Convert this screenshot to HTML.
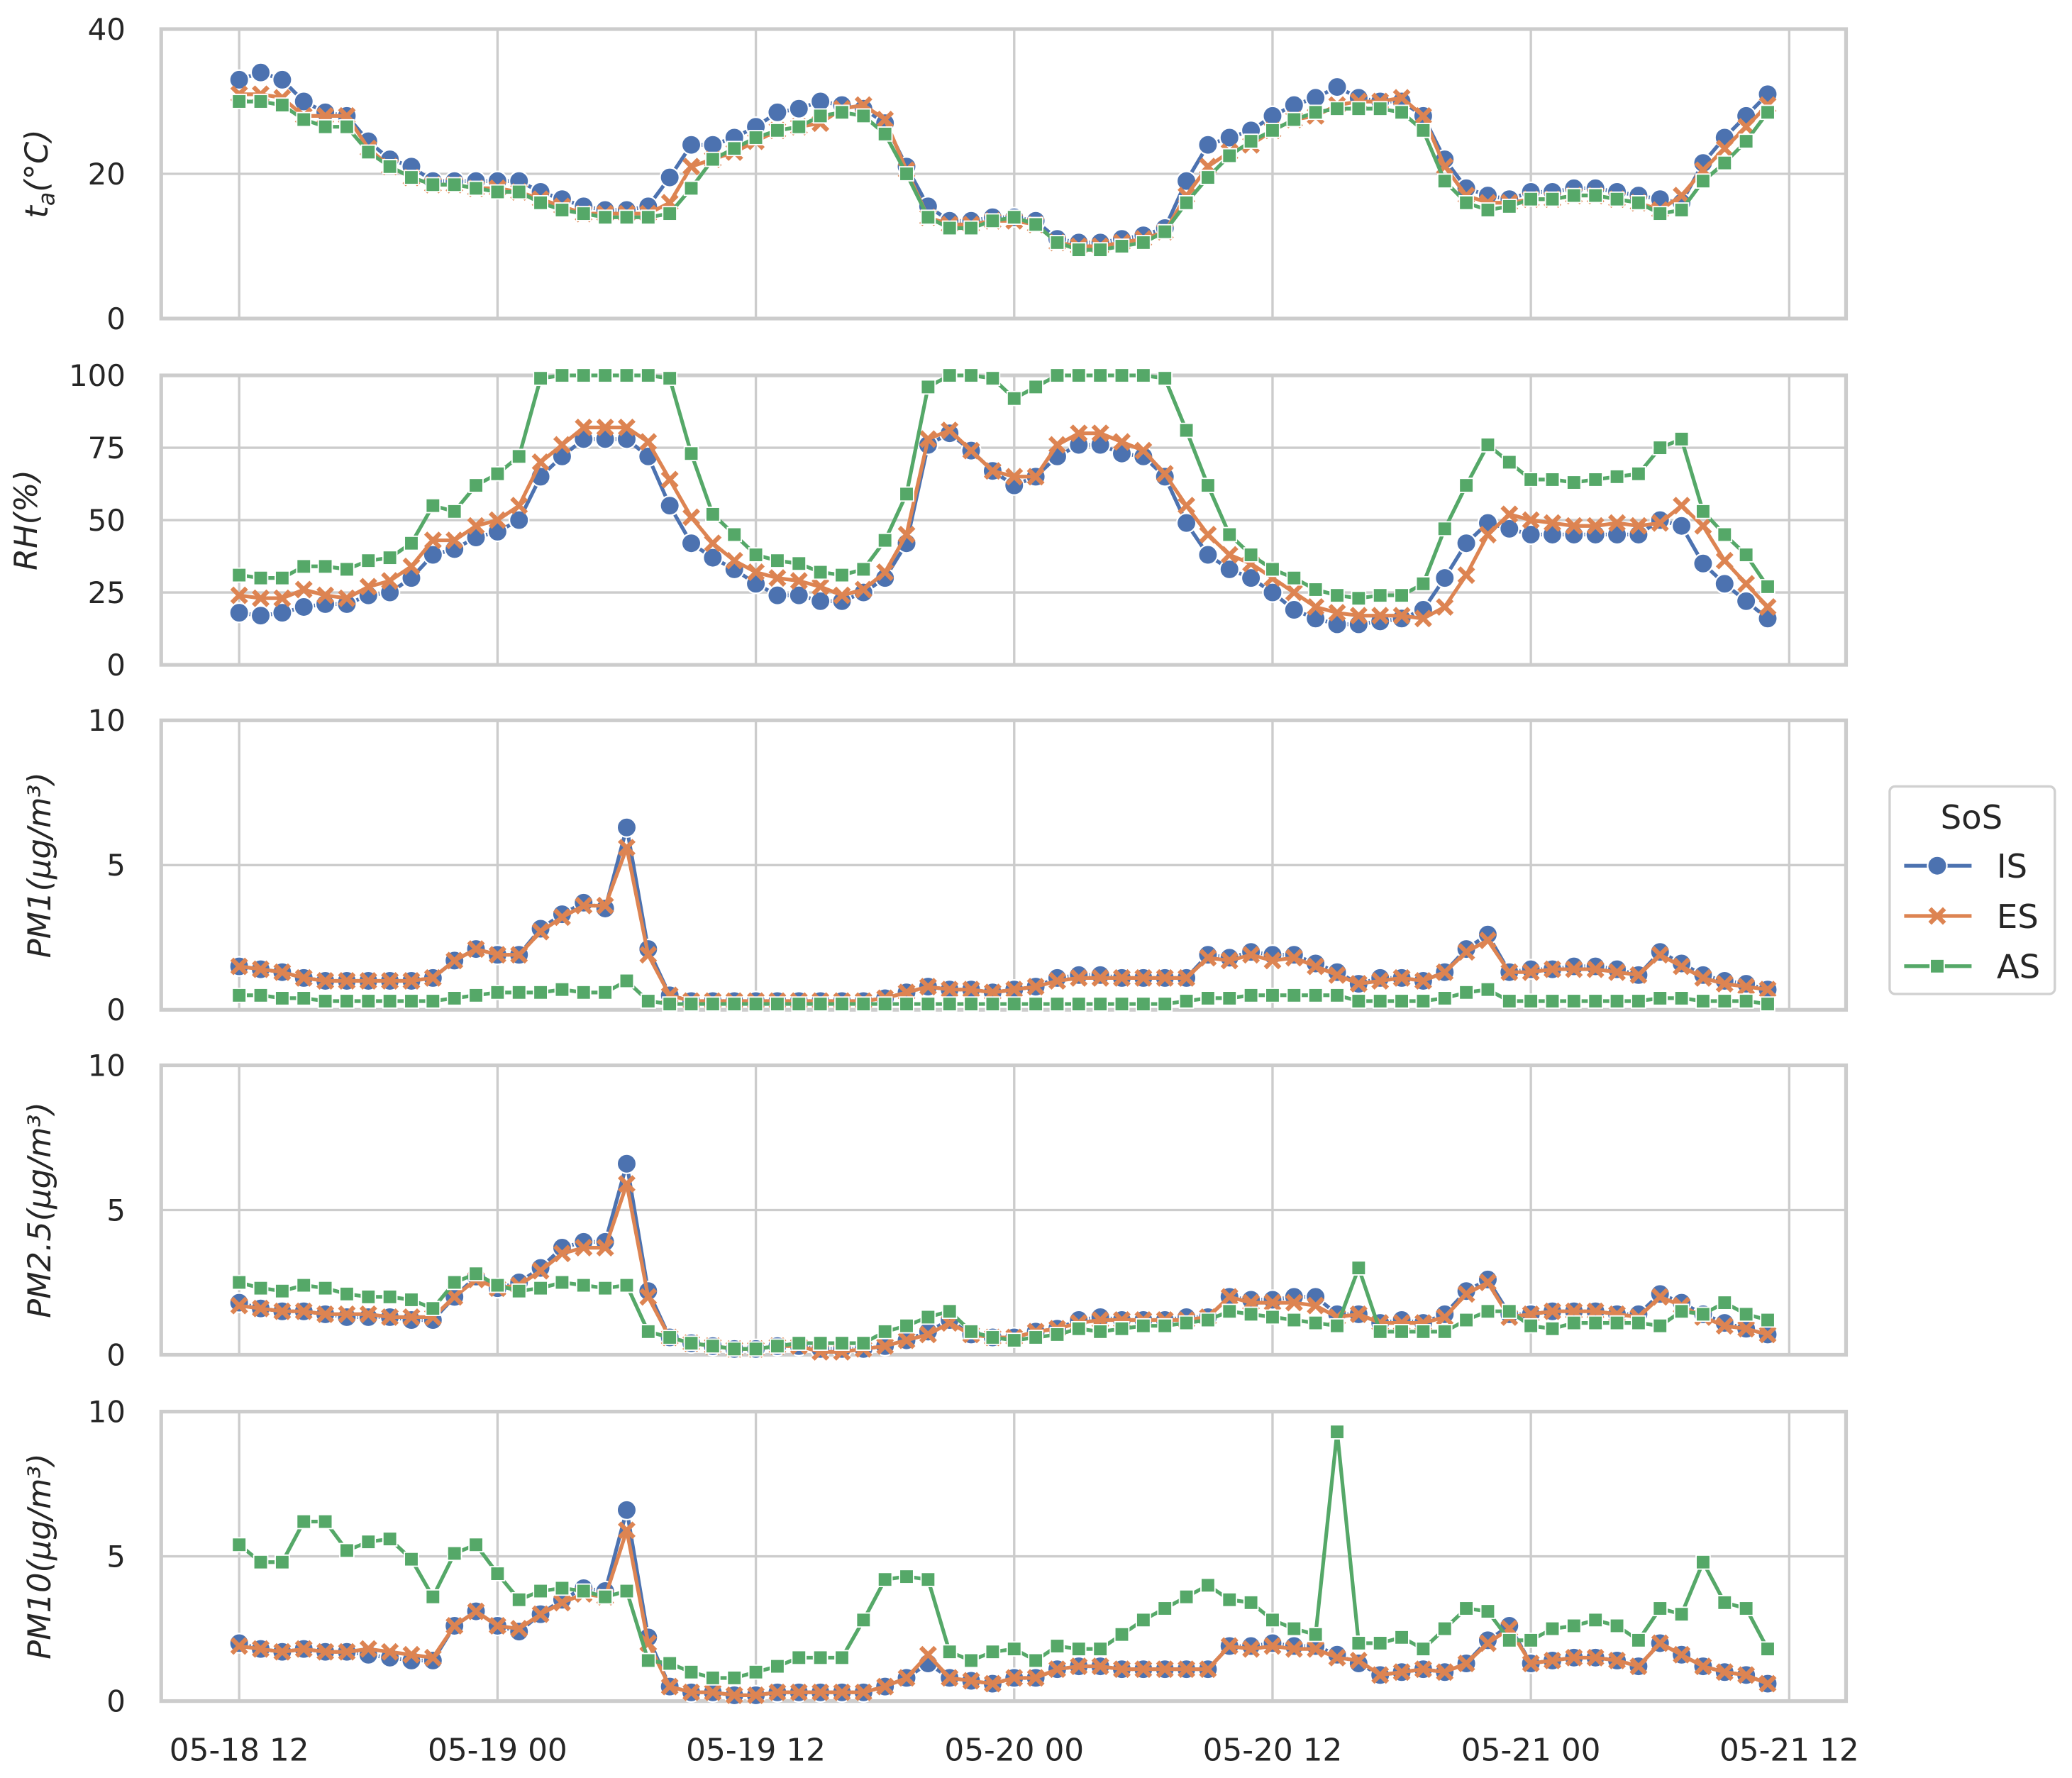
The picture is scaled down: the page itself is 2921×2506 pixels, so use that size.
<!DOCTYPE html>
<html><head><meta charset="utf-8"><style>
html,body{margin:0;padding:0;background:#fff}
svg{display:block}
text{font-family:"DejaVu Sans","Liberation Sans",sans-serif;fill:#262626}
</style></head><body>
<svg id="chart" width="2921" height="2506" viewBox="0 0 1568 1345.2" xmlns="http://www.w3.org/2000/svg"></svg>
<script>
const xTickLabels=["05-18 12","05-19 00","05-19 12","05-20 00","05-20 12","05-21 00","05-21 12"];
const taIS=[33,34,33,30,28.5,28,24.5,22,21,19,19,19,19,19,17.5,16.5,15.5,15,15,15.5,19.5,24,24,25,26.5,28.5,29,30,29.5,29,27,21,15.5,13.5,13.5,14,14,13.5,11,10.5,10.5,11,11.5,12.5,19,24,25,26,28,29.5,30.5,32,30.5,30,30,28,22,18,17,16.5,17.5,17.5,18,18,17.5,17,16.5,16,21.5,25,28,31];
const taES=[31,31,30.5,28,28,28,23.5,21,19.5,18.5,18.5,18,18,17.5,16.5,15.5,14.5,14.5,14.5,14.5,16,21,22,23,24.5,26,26.5,27,29,29.5,27.5,20.5,14,13,13,13.5,13.5,13,10.5,10,10,10.5,11,12,17,21,23,24,26,27.5,28,29.5,30,30,30.5,28,21,17,16,16,16.5,16.5,17,17,16.5,16,15,17,20.5,23.5,26.5,29.5];
const taAS=[30,30,29.5,27.5,26.5,26.5,23,21,19.5,18.5,18.5,18,17.5,17.5,16,15,14.5,14,14,14,14.5,18,22,23.5,25,26,26.5,28,28.5,28,25.5,20,14,12.5,12.5,13.5,14,13,10.5,9.5,9.5,10,10.5,12,16,19.5,22.5,24.5,26,27.5,28.5,29,29,29,28.5,26,19,16,15,15.5,16.5,16.5,17,17,16.5,16,14.5,15,19,21.5,24.5,28.5];
const rhIS=[18,17,18,20,21,21,24,25,30,38,40,44,46,50,65,72,78,78,78,72,55,42,37,33,28,24,24,22,22,25,30,42,76,80,74,67,62,65,72,76,76,73,72,65,49,38,33,30,25,19,16,14,14,15,16,19,30,42,49,47,45,45,45,45,45,45,50,48,35,28,22,16];
const rhES=[24,23,23,26,24,23,27,29,34,43,43,48,50,55,70,76,82,82,82,77,64,51,42,36,32,30,29,27,24,26,32,45,78,81,74,67,65,65,76,80,80,77,74,66,55,45,38,35,30,25,20,18,17,17,17,16,20,31,45,52,50,49,48,48,49,48,49,55,48,36,28,20];
const rhAS=[31,30,30,34,34,33,36,37,42,55,53,62,66,72,99,100,100,100,100,100,99,73,52,45,38,36,35,32,31,33,43,59,96,100,100,99,92,96,100,100,100,100,100,99,81,62,45,38,33,30,26,24,23,24,24,28,47,62,76,70,64,64,63,64,65,66,75,78,53,45,38,27];
const pm1IS=[1.5,1.4,1.3,1.1,1.0,1.0,1.0,1.0,1.0,1.1,1.7,2.1,1.9,1.9,2.8,3.3,3.7,3.5,6.3,2.1,0.5,0.3,0.3,0.3,0.3,0.3,0.3,0.3,0.3,0.3,0.4,0.6,0.8,0.7,0.7,0.6,0.7,0.8,1.1,1.2,1.2,1.1,1.1,1.1,1.1,1.9,1.8,2.0,1.9,1.9,1.6,1.3,0.9,1.1,1.1,1.0,1.3,2.1,2.6,1.3,1.4,1.4,1.5,1.5,1.4,1.2,2.0,1.6,1.2,1.0,0.9,0.7];
const pm1ES=[1.5,1.4,1.3,1.1,1.0,1.0,1.0,1.0,1.0,1.1,1.7,2.1,1.9,1.9,2.7,3.2,3.6,3.6,5.6,1.9,0.5,0.3,0.3,0.3,0.3,0.3,0.3,0.3,0.3,0.3,0.4,0.6,0.8,0.7,0.7,0.6,0.7,0.8,1.0,1.1,1.1,1.1,1.1,1.1,1.1,1.8,1.7,1.9,1.7,1.8,1.5,1.2,0.9,1.0,1.1,1.0,1.3,2.0,2.4,1.3,1.3,1.4,1.4,1.4,1.3,1.2,1.9,1.5,1.1,0.9,0.8,0.7];
const pm1AS=[0.5,0.5,0.4,0.4,0.3,0.3,0.3,0.3,0.3,0.3,0.4,0.5,0.6,0.6,0.6,0.7,0.6,0.6,1.0,0.3,0.2,0.2,0.2,0.2,0.2,0.2,0.2,0.2,0.2,0.2,0.2,0.2,0.2,0.2,0.2,0.2,0.2,0.2,0.2,0.2,0.2,0.2,0.2,0.2,0.3,0.4,0.4,0.5,0.5,0.5,0.5,0.5,0.3,0.3,0.3,0.3,0.4,0.6,0.7,0.3,0.3,0.3,0.3,0.3,0.3,0.3,0.4,0.4,0.3,0.3,0.3,0.2];
const pm25IS=[1.8,1.6,1.5,1.5,1.4,1.3,1.3,1.3,1.2,1.2,2.0,2.7,2.3,2.5,3.0,3.7,3.9,3.9,6.6,2.2,0.6,0.4,0.3,0.2,0.2,0.3,0.3,0.2,0.2,0.2,0.3,0.5,0.8,1.2,0.7,0.6,0.6,0.8,0.9,1.2,1.3,1.2,1.2,1.2,1.3,1.3,2.0,1.9,1.9,2.0,2.0,1.4,1.4,1.1,1.2,1.1,1.4,2.2,2.6,1.4,1.4,1.5,1.5,1.5,1.4,1.4,2.1,1.8,1.4,1.1,0.9,0.7];
const pm25ES=[1.7,1.6,1.5,1.5,1.4,1.4,1.4,1.3,1.3,1.3,2.0,2.6,2.3,2.4,2.9,3.5,3.7,3.7,5.9,2.0,0.6,0.4,0.3,0.2,0.2,0.3,0.3,0.1,0.1,0.2,0.3,0.5,0.7,1.1,0.7,0.6,0.6,0.8,0.9,1.1,1.2,1.2,1.2,1.2,1.2,1.3,2.0,1.8,1.8,1.8,1.7,1.3,1.4,1.1,1.1,1.1,1.3,2.1,2.5,1.3,1.4,1.5,1.5,1.5,1.4,1.3,2.0,1.7,1.3,1.0,0.9,0.7];
const pm25AS=[2.5,2.3,2.2,2.4,2.3,2.1,2.0,2.0,1.9,1.6,2.5,2.8,2.4,2.2,2.3,2.5,2.4,2.3,2.4,0.8,0.6,0.4,0.3,0.2,0.2,0.3,0.4,0.4,0.4,0.4,0.8,1.0,1.3,1.5,0.8,0.6,0.5,0.6,0.7,0.9,0.8,0.9,1.0,1.0,1.1,1.2,1.5,1.4,1.3,1.2,1.1,1.0,3.0,0.8,0.8,0.8,0.8,1.2,1.5,1.5,1.0,0.9,1.1,1.1,1.1,1.1,1.0,1.5,1.4,1.8,1.4,1.2];
const pm10IS=[2.0,1.8,1.7,1.8,1.7,1.7,1.6,1.5,1.4,1.4,2.6,3.1,2.6,2.4,3.0,3.5,3.9,3.8,6.6,2.2,0.5,0.3,0.3,0.2,0.2,0.3,0.3,0.3,0.3,0.3,0.5,0.8,1.3,0.8,0.7,0.6,0.8,0.8,1.1,1.2,1.2,1.1,1.1,1.1,1.1,1.1,1.9,1.9,2.0,1.9,1.9,1.6,1.3,0.9,1.0,1.1,1.0,1.3,2.1,2.6,1.3,1.4,1.5,1.5,1.4,1.2,2.0,1.6,1.2,1.0,0.9,0.6];
const pm10ES=[1.9,1.8,1.7,1.8,1.7,1.7,1.8,1.7,1.6,1.5,2.6,3.1,2.6,2.5,3.0,3.4,3.7,3.6,5.9,2.0,0.5,0.3,0.3,0.2,0.2,0.3,0.3,0.3,0.3,0.3,0.5,0.8,1.6,0.8,0.7,0.6,0.8,0.8,1.1,1.2,1.2,1.1,1.1,1.1,1.1,1.1,1.9,1.8,1.9,1.8,1.8,1.5,1.4,0.9,1.0,1.1,1.0,1.3,2.0,2.5,1.3,1.4,1.5,1.5,1.4,1.2,2.0,1.6,1.2,1.0,0.9,0.6];
const pm10AS=[5.4,4.8,4.8,6.2,6.2,5.2,5.5,5.6,4.9,3.6,5.1,5.4,4.4,3.5,3.8,3.9,3.8,3.6,3.8,1.4,1.3,1.0,0.8,0.8,1.0,1.2,1.5,1.5,1.5,2.8,4.2,4.3,4.2,1.7,1.4,1.7,1.8,1.4,1.9,1.8,1.8,2.3,2.8,3.2,3.6,4.0,3.5,3.4,2.8,2.5,2.3,9.3,2.0,2.0,2.2,1.8,2.5,3.2,3.1,2.1,2.1,2.5,2.6,2.8,2.6,2.1,3.2,3.0,4.8,3.4,3.2,1.8];
const panelYTicks=[[0,20,40],[0,25,50,75,100],[0,5,10],[0,5,10],[0,5,10]];
const panelMax=[40,100,10,10,10];
const panelNames=["ta","rh","pm1","pm25","pm10"];
const panelSeries=[[taIS,taES,taAS],[rhIS,rhES,rhAS],[pm1IS,pm1ES,pm1AS],[pm25IS,pm25ES,pm25AS],[pm10IS,pm10ES,pm10AS]];
const seriesNames=["IS","ES","AS"];

const NS="http://www.w3.org/2000/svg";
const svg=document.getElementById('chart');
function mk(tag,attrs,parent){const e=document.createElementNS(NS,tag);for(const k in attrs)e.setAttribute(k,attrs[k]);(parent||svg).appendChild(e);return e;}
const X0=122,X1=1397,TOPS=[22,284,545,806,1068],H=219;
const colors=["#4c72b0","#dd8452","#55a868"];
function xs(i){return 181+i*(195.5/12);}
function xTick(k){return 181+k*195.5;}
const ylabs=[["t",36],["RH(%)",28],["PM1(μg/m³)",38],["PM2.5(μg/m³)",38],["PM10(μg/m³)",38]];

panelSeries.forEach((ser,p)=>{
  const top=TOPS[p],bot=top+H,max=panelMax[p];
  const ys=v=>bot-v/max*H;
  const g=mk('g',{});
  
  
  for(let k=0;k<xTickLabels.length;k++){const l=mk('line',{x1:xTick(k),x2:xTick(k),y1:top,y2:bot,stroke:'#cccccc','stroke-width':1.8},g);
    }
  panelYTicks[p].forEach(t=>{const l=mk('line',{x1:X0,x2:X1,y1:ys(t),y2:ys(t),stroke:'#cccccc','stroke-width':1.8},g);
    
    const tx=mk('text',{x:95,y:ys(t)+8,'text-anchor':'end','font-size':22.5},g);tx.textContent=t;
    });
  const fr=mk('rect',{x:X0,y:top,width:X1-X0,height:H,fill:'none',stroke:'#cccccc','stroke-width':2.8},g);
  
  const yl=mk('text',{transform:`translate(${ylabs[p][1]},${top+H/2}) rotate(-90)`,'text-anchor':'middle','font-size':24,'font-style':'italic'},g);
  
  if(p===0){yl.innerHTML='t<tspan font-size="17" dy="5">a</tspan><tspan dy="-5">(°C)</tspan>';}
  else yl.textContent=ylabs[p][0];
  ser.forEach((vals,s)=>{
    const sg=mk('g',{},g);
    
    
    const d=vals.map((v,i)=>(i?'L':'M')+xs(i).toFixed(1)+','+ys(v).toFixed(1)).join('');
    const pl=mk('path',{d:d,fill:'none',stroke:colors[s],'stroke-width':2.8,'stroke-linejoin':'round'},sg);
    
    vals.forEach((v,i)=>{
      const x=xs(i),y=ys(v);let m;
      if(s===0){m=mk('circle',{cx:x,cy:y,r:7.3,fill:colors[0],stroke:'#fff','stroke-width':1.2},sg);}
      else if(s===1){m=mk('path',{d:`M${x-5.5},${y-5.5}L${x+5.5},${y+5.5}M${x-5.5},${y+5.5}L${x+5.5},${y-5.5}`,stroke:colors[1],'stroke-width':3.4,fill:'none'},sg);}
      else {m=mk('rect',{x:x-5.3,y:y-5.3,width:10.6,height:10.6,fill:colors[2],stroke:'#fff','stroke-width':1},sg);}
      
      
    });
  });
});
xTickLabels.forEach((t,k)=>{const tx=mk('text',{x:xTick(k),y:1332,'text-anchor':'middle','font-size':23.5});tx.textContent=t;
  });
const lg=mk('g',{});


mk('rect',{x:1430,y:595,width:125,height:157,rx:4,fill:'#fff',stroke:'#d0d0d0','stroke-width':1.8},lg);
const lt=mk('text',{x:1492,y:627,'text-anchor':'middle','font-size':25},lg);lt.textContent='SoS';

seriesNames.forEach((n,s)=>{
  const y=655+s*38;const e=mk('g',{},lg);
  
  
  mk('line',{x1:1441,x2:1492,y1:y,y2:y,stroke:colors[s],'stroke-width':2.8},e);
  if(s===0)mk('circle',{cx:1466,cy:y,r:7.3,fill:colors[0],stroke:'#fff','stroke-width':1.2},e);
  else if(s===1)mk('path',{d:`M${1460.5},${y-5.5}L${1471.5},${y+5.5}M${1460.5},${y+5.5}L${1471.5},${y-5.5}`,stroke:colors[1],'stroke-width':3.4},e);
  else mk('rect',{x:1460.7,y:y-5.3,width:10.6,height:10.6,fill:colors[2],stroke:'#fff'},e);
  const t=mk('text',{x:1511,y:y+9,'font-size':25},e);t.textContent=n;
});
</script>
</body></html>
